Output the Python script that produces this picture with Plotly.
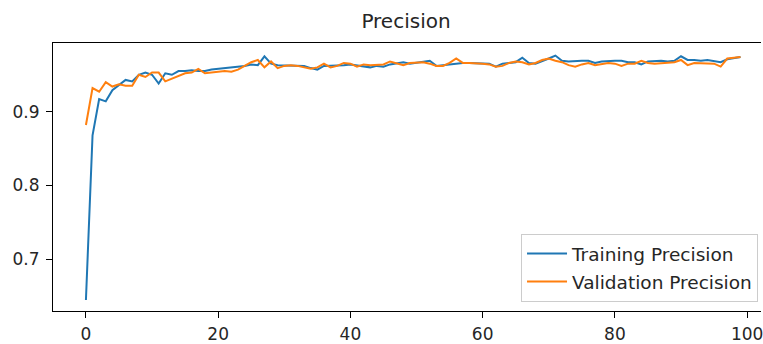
import plotly.graph_objects as go

epochs = list(range(100))

training_precision = [
    0.645, 0.868, 0.917, 0.914, 0.929, 0.936, 0.943, 0.941, 0.950, 0.953,
    0.950, 0.938, 0.952, 0.950, 0.955, 0.955, 0.956, 0.955, 0.955, 0.957,
    0.958, 0.958, 0.959, 0.960, 0.962, 0.964, 0.963, 0.975, 0.965, 0.963,
    0.963, 0.963, 0.962, 0.962, 0.959, 0.957, 0.962, 0.962, 0.963, 0.963,
    0.964, 0.963, 0.961, 0.960, 0.962, 0.961, 0.964, 0.966, 0.967, 0.965,
    0.966, 0.967, 0.969, 0.962, 0.963, 0.965, 0.966, 0.966, 0.966, 0.966,
    0.966, 0.965, 0.961, 0.965, 0.966, 0.967, 0.973, 0.966, 0.965, 0.968,
    0.972, 0.976, 0.969, 0.968, 0.969, 0.969, 0.969, 0.966, 0.968, 0.969,
    0.969, 0.969, 0.967, 0.967, 0.964, 0.968, 0.969, 0.969, 0.968, 0.969,
    0.975, 0.970, 0.970, 0.969, 0.970, 0.968, 0.967, 0.971, 0.973, 0.974,
]

validation_precision = [
    0.882, 0.932, 0.927, 0.940, 0.934, 0.937, 0.935, 0.935, 0.950, 0.947,
    0.953, 0.953, 0.941, 0.945, 0.949, 0.952, 0.953, 0.958, 0.952, 0.953,
    0.955, 0.955, 0.954, 0.957, 0.962, 0.967, 0.970, 0.960, 0.968, 0.959,
    0.962, 0.963, 0.962, 0.960, 0.958, 0.960, 0.965, 0.960, 0.962, 0.966,
    0.965, 0.961, 0.964, 0.963, 0.963, 0.964, 0.968, 0.966, 0.963, 0.966,
    0.967, 0.967, 0.965, 0.962, 0.962, 0.966, 0.972, 0.966, 0.966, 0.966,
    0.965, 0.964, 0.961, 0.962, 0.966, 0.968, 0.967, 0.964, 0.966, 0.970,
    0.972, 0.969, 0.967, 0.963, 0.961, 0.964, 0.966, 0.963, 0.965, 0.966,
    0.965, 0.962, 0.965, 0.965, 0.969, 0.966, 0.965, 0.966, 0.966, 0.967,
    0.970, 0.963, 0.966, 0.966, 0.966, 0.965, 0.961, 0.972, 0.973, 0.974,
]

x_ticks = [0, 20, 40, 60, 80, 100]
y_ticks = [0.7, 0.8, 0.9]
y_tick_labels = ["0.7", "0.8", "0.9"]

FONT = "DejaVu Sans, Liberation Sans, sans-serif"
TXT = "#262626"

fig = go.Figure()
fig.add_trace(go.Scatter(
    x=epochs, y=training_precision, mode="lines", name="Training Precision",
    legendgroup="a", line=dict(color="#1f77b4", width=2),
))
fig.add_trace(go.Scatter(
    x=epochs, y=validation_precision, mode="lines", name="Validation Precision",
    legendgroup="b", line=dict(color="#ff7f0e", width=2),
))

fig.update_layout(
    width=763, height=344, autosize=False,
    margin=dict(l=53, r=0, t=43, b=33),
    paper_bgcolor="white", plot_bgcolor="white",
    font=dict(family=FONT, size=17, color=TXT),
    title=dict(text="Precision", x=0.4986, xref="paper", xanchor="center",
               y=1 - 21 / 344, yref="container", yanchor="middle",
               font=dict(family=FONT, size=20, color=TXT)),
    showlegend=True,
    legend=dict(x=0.9958, y=0.034, xanchor="right", yanchor="bottom",
                bgcolor="rgba(255,255,255,0.8)", bordercolor="#cccccc",
                borderwidth=1, tracegroupgap=1, itemwidth=40,
                font=dict(family=FONT, size=18.5, color=TXT)),
)

fig.update_xaxes(
    range=[-4.98, 102.1], tickvals=x_ticks, ticktext=[str(v) for v in x_ticks],
    showgrid=False, zeroline=False,
    showline=True, linecolor="black", linewidth=1, mirror=True,
    ticks="outside", ticklen=6, tickcolor="black", tickwidth=1,
    ticklabelstandoff=2, ticklabeloverflow="allow",
    tickfont=dict(family=FONT, size=17, color=TXT),
)
fig.update_yaxes(
    range=[0.630, 0.993], tickvals=y_ticks, ticktext=y_tick_labels,
    showgrid=False, zeroline=False,
    showline=True, linecolor="black", linewidth=1, mirror=False,
    ticks="outside", ticklen=6, tickcolor="black", tickwidth=1,
    ticklabelstandoff=3,
    tickfont=dict(family=FONT, size=17, color=TXT),
)

fig.write_html("out.html")
